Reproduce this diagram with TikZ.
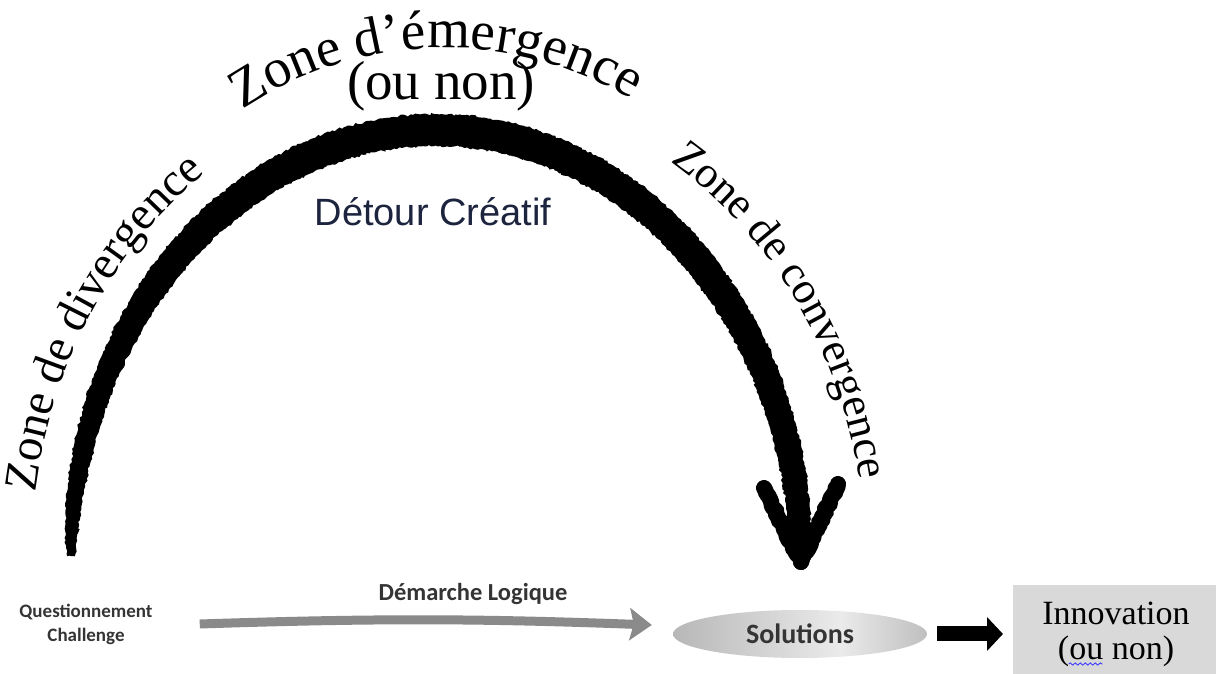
\documentclass[tikz,border=0pt]{standalone}
\usepackage{fontspec}
\setmainfont{Liberation Serif}
\newfontfamily\arialf{Liberation Sans}
\newfontfamily\calibf{Carlito}
\usetikzlibrary{decorations.text,decorations.pathmorphing,arrows.meta,calc,shapes.geometric}
\definecolor{navy}{RGB}{28,36,62}
\definecolor{inkgray}{RGB}{52,52,52}
\definecolor{boxgray}{RGB}{217,217,217}
\definecolor{logicgray}{RGB}{138,138,138}
\pgfdeclarehorizontalshading{pebble}{100bp}{
  color(0bp)=(black!42); color(22bp)=(black!30); color(58bp)=(black!8);
  color(80bp)=(black!30); color(100bp)=(black!48)}
\begin{document}
\begin{tikzpicture}[x=1pt,y=1pt,
  declare function={bw(\t)=(\t<90)*(19+13*sqrt(sin(\t)))+(\t>=90)*(3+29*pow(sin(\t)+0.001,0.4));},
  brush/.style={fill=black,decorate,decoration={random steps,segment length=2.5pt,amplitude=1.3pt}},
  barb/.style={line width=16pt,line cap=round,line join=round,decorate,
    decoration={random steps,segment length=3pt,amplitude=1.4pt}},
  smallsans/.style={font=\calibf\bfseries\fontsize{#1}{#1}\selectfont,text=inkgray},
  squig/.style={draw=blue!75,line width=0.9pt,decorate,
    decoration={snake,segment length=5pt,amplitude=1.1pt}}
]
\pgfmathsetseed{7}
\useasboundingbox (0,0) rectangle (1216,674);

% brushed arc of the creative detour
\path[brush]
  plot[domain=179.5:0,samples=170] ({436+(365+bw(\x)/2)*cos(\x)},{114+(430+bw(\x)/2)*sin(\x)})
  -- plot[domain=0:179.5,samples=170] ({436+(365-bw(\x)/2)*cos(\x)},{114+(430-bw(\x)/2)*sin(\x)})
  -- cycle;
\coordinate (tip) at (801,112);
\coordinate (barbL) at (764,186);
\coordinate (barbR) at (838,190);
\draw[barb] (barbL) -- (tip);
\draw[barb] (barbR) -- (tip);

% curved zone labels
\path[decorate,decoration={text along path,text align=center,
  text={|\fontsize{55}{60}\selectfont|Zone d’émergence}}]
  (445,262) ++(128:364) arc[start angle=128,end angle=55,radius=364];
\node[font=\fontsize{55}{60}\selectfont,anchor=base,inner sep=0] (ounon) at (441,574) {(ou non)};
\path[decorate,decoration={text along path,text align=center,
  text={|\fontsize{47}{50}\selectfont|Zone de divergence}}]
  (436,114) ++(175:405 and 470) arc[start angle=175,end angle=121,x radius=405,y radius=470];
\path[decorate,decoration={text along path,text align=center,
  text={|\fontsize{44.5}{48}\selectfont|Zone de convergence}}]
  (436,114) ++(61:430 and 475) arc[start angle=61,end angle=6,x radius=430,y radius=475];

\node[text=navy,font=\arialf\fontsize{38}{40}\selectfont] (detour) at (433,462) {Détour Créatif};

% logical path along the bottom
\node[smallsans=19,align=center,inner sep=0] (quest) at (86,50) {Questionnement\\[5pt]Challenge};
\node[smallsans=24.5,inner sep=0] (logic) at (473,80) {Démarche Logique};
\node[ellipse,minimum width=254pt,minimum height=48pt,inner sep=0,
  shading=pebble,smallsans=28] (sol) at (800,40) {Solutions};
\draw[line width=9pt,logicgray,-{Stealth[length=22pt 0 0,width=32pt 0 0,inset=4pt]}]
  ([xshift=47pt]quest.east) to[bend left=2] ([xshift=-21pt,yshift=9pt]sol.west);

% outcome box
\node[fill=boxgray,minimum width=203pt,minimum height=89pt,inner sep=0,anchor=south west] (innov) at (1013,0) {};
\node[font=\fontsize{34}{36}\selectfont,anchor=base,inner sep=0] (innov1) at (1116,49) {Innovation};
\node[font=\fontsize{34}{36}\selectfont,anchor=base,inner sep=0] (innov2) at (1116,14) {(ou non)};
\draw[squig] ([xshift=11pt,yshift=-4pt]innov2.base west) -- ++(34,0);
\draw[line width=15pt,-{Triangle[length=16pt 0 0,width=33pt 0 0]},shorten <=10pt,shorten >=10pt]
  (sol.east) -- (sol.east -| innov.west);
\end{tikzpicture}
\end{document}
